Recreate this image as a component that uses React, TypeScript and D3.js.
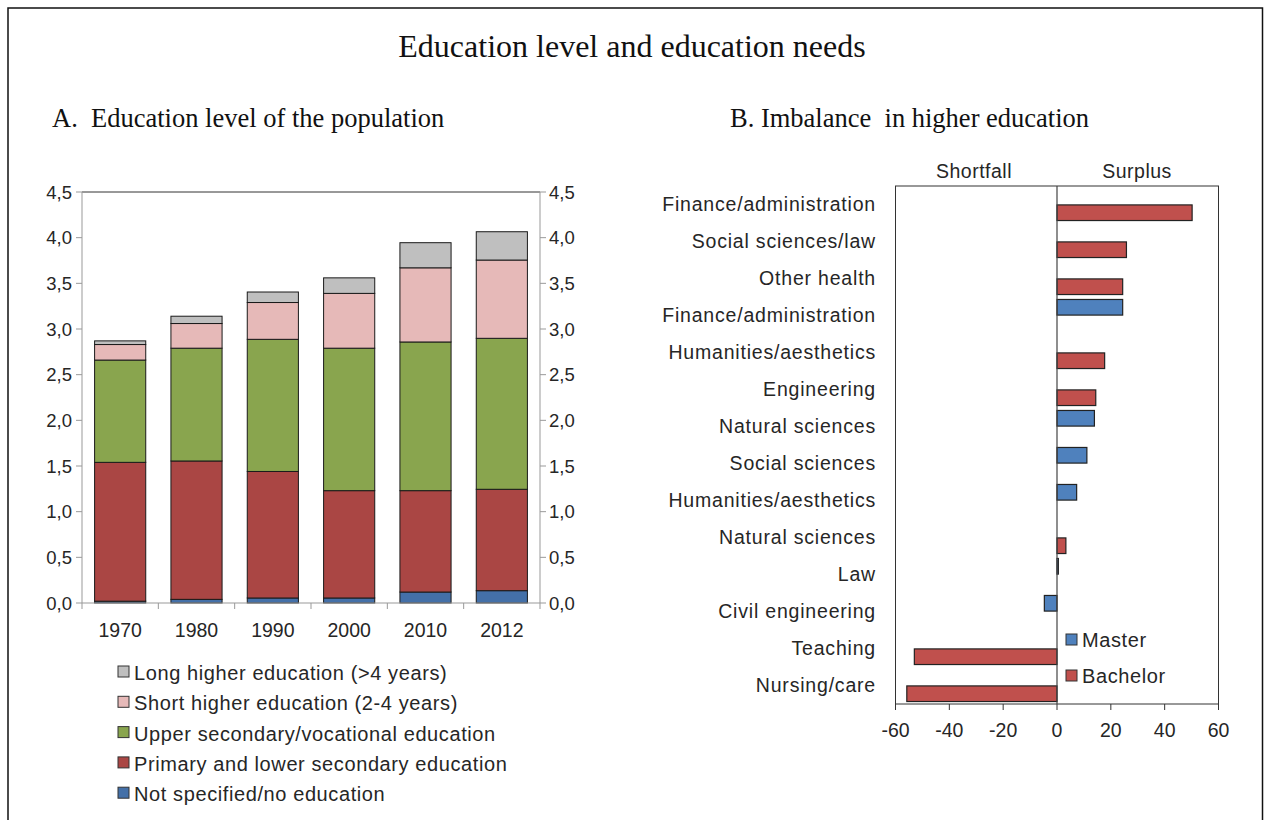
import React from "react";
import * as d3 from "d3";

const years = ["1970", "1980", "1990", "2000", "2010", "2012"];
const eduSeries = [
  "Not specified/no education",
  "Primary and lower secondary education",
  "Upper secondary/vocational education",
  "Short higher education (2-4 years)",
  "Long higher education (>4 years)",
];
const notSpecified = [0.02, 0.04, 0.055, 0.055, 0.12, 0.135];
const primaryLower = [1.52, 1.515, 1.385, 1.175, 1.11, 1.11];
const upperSecondary = [1.12, 1.235, 1.447, 1.56, 1.628, 1.653];
const shortHigher = [0.17, 0.27, 0.403, 0.6, 0.812, 0.857];
const longHigher = [0.04, 0.08, 0.115, 0.17, 0.275, 0.31];
const eduColors = ["#4470a8", "#aa4644", "#89a54e", "#e6b9b8", "#bfbfbf"];
const leftTicks = [0, 0.5, 1, 1.5, 2, 2.5, 3, 3.5, 4, 4.5];

const fields = [
  "Finance/administration",
  "Social sciences/law",
  "Other health",
  "Finance/administration",
  "Humanities/aesthetics",
  "Engineering",
  "Natural sciences",
  "Social sciences",
  "Humanities/aesthetics",
  "Natural sciences",
  "Law",
  "Civil engineering",
  "Teaching",
  "Nursing/care",
];
const masterVals: (number | null)[] = [null, null, null, 24.4, null, null, 13.9, 11.1, 7.3, null, 0.5, -4.7, null, null];
const bachelorVals: (number | null)[] = [50.2, 25.8, 24.4, null, 17.7, 14.4, null, null, null, 3.3, null, null, -53, -55.8];
const degreeSeries = ["Master", "Bachelor"];
const degreeColors = ["#4f81bd", "#c0504d"];
const rightTicks = [-60, -40, -20, 0, 20, 40, 60];

const SANS = "'Liberation Sans', Arial, sans-serif";
const SERIF = "'Liberation Serif', 'Times New Roman', serif";
const fmt = (v: number) => v.toFixed(1).replace(".", ",");

export default function App() {
  // Left chart
  const L = { x0: 82, x1: 540, y0: 192, y1: 603 };
  const x = d3.scaleBand<string>().domain(years).range([L.x0, L.x1]).paddingInner(0.33).paddingOuter(0.165);
  const y = d3.scaleLinear().domain([0, 4.5]).range([L.y1, L.y0]);
  const table = years.map((yr, i) => ({
    year: yr,
    s0: notSpecified[i],
    s1: primaryLower[i],
    s2: upperSecondary[i],
    s3: shortHigher[i],
    s4: longHigher[i],
  }));
  const stack = d3.stack<any>().keys(["s0", "s1", "s2", "s3", "s4"])(table);
  const step = x.step();
  const boundaries = years.map((_, i) => L.x0 + i * step).concat([L.x1]);

  // Right chart
  const R = { x0: 895.5, x1: 1218.5, y0: 186, y1: 704 };
  const xr = d3.scaleLinear().domain([-60, 60]).range([R.x0, R.x1]);
  const yr = d3.scaleBand<number>().domain(fields.map((_, i) => i)).range([R.y0, R.y1]).padding(0);
  const sub = d3.scaleBand<string>().domain(degreeSeries).range([0, yr.bandwidth()]).paddingInner(0.05).paddingOuter(0.15);
  const seriesVals = [masterVals, bachelorVals];

  return (
    <svg width={1264} height={820} style={{ position: "absolute", left: 0, top: 0, background: "#fff" }}>
      <rect x={0} y={0} width={1264} height={820} fill="#fff" />
      <rect x={8} y={8} width={1254.5} height={830} fill="none" stroke="#111" strokeWidth={1.5} />
      <text x={632} y={57} textAnchor="middle" fontFamily={SERIF} fontSize={32} fill="#111">
        Education level and education needs
      </text>
      <text x={52} y={127} fontFamily={SERIF} fontSize={26.5} fill="#111" xmlSpace="preserve">
        {"A.  Education level of the population"}
      </text>
      <text x={730} y={127} fontFamily={SERIF} fontSize={26.5} fill="#111" xmlSpace="preserve">
        {"B. Imbalance  in higher education"}
      </text>

      {/* Left chart */}
      {stack.map((layer, si) =>
        layer.map((d, i) => (
          <rect
            key={`${si}-${i}`}
            x={x(years[i])}
            y={y(d[1])}
            width={x.bandwidth()}
            height={y(d[0]) - y(d[1])}
            fill={eduColors[si]}
            stroke="#1a1a1a"
            strokeWidth={1}
          />
        ))
      )}
      <line x1={L.x0} x2={L.x1} y1={L.y0} y2={L.y0} stroke="#333" strokeWidth={1} />
      <line x1={L.x0} x2={L.x0} y1={L.y0} y2={L.y1} stroke="#999" strokeWidth={1} />
      <line x1={L.x1} x2={L.x1} y1={L.y0} y2={L.y1} stroke="#999" strokeWidth={1} />
      <line x1={L.x0} x2={L.x1} y1={L.y1} y2={L.y1} stroke="#999" strokeWidth={1} />
      {leftTicks.map((t) => (
        <g key={t}>
          <line x1={L.x0 - 6} x2={L.x0} y1={y(t)} y2={y(t)} stroke="#999" />
          <line x1={L.x1} x2={L.x1 + 6} y1={y(t)} y2={y(t)} stroke="#999" />
          <text x={L.x0 - 10} y={y(t) + 6.5} textAnchor="end" fontFamily={SANS} fontSize={18.5} fill="#262626">
            {fmt(t)}
          </text>
          <text x={L.x1 + 9} y={y(t) + 6.5} fontFamily={SANS} fontSize={18.5} fill="#262626">
            {fmt(t)}
          </text>
        </g>
      ))}
      {boundaries.map((bx, i) => (
        <line key={i} x1={bx} x2={bx} y1={L.y1} y2={L.y1 + 6} stroke="#999" />
      ))}
      {years.map((yv) => (
        <text key={yv} x={(x(yv) as number) + x.bandwidth() / 2} y={637} textAnchor="middle" fontFamily={SANS} fontSize={19.5} fill="#262626">
          {yv}
        </text>
      ))}
      {eduSeries
        .map((name, i) => ({ name, i }))
        .reverse()
        .map((d, k) => (
          <g key={d.name}>
            <rect x={118} y={666 + k * 30.3} width={11} height={11} fill={eduColors[d.i]} stroke="#333" strokeWidth={1} />
            <text x={134} y={680 + k * 30.3} fontFamily={SANS} fontSize={20} letterSpacing={0.6} fill="#262626">
              {d.name}
            </text>
          </g>
        ))}

      {/* Right chart */}
      <text x={974} y={178} textAnchor="middle" fontFamily={SANS} fontSize={19.5} letterSpacing={0.5} fill="#262626">Shortfall</text>
      <text x={1137} y={178} textAnchor="middle" fontFamily={SANS} fontSize={19.5} letterSpacing={0.5} fill="#262626">Surplus</text>
      <rect x={R.x0} y={R.y0} width={R.x1 - R.x0} height={R.y1 - R.y0} fill="none" stroke="#333" strokeWidth={1} />
      {fields.map((f, i) => (
        <text key={i} x={876} y={(yr(i) as number) + yr.bandwidth() / 2 + 6.5} textAnchor="end" fontFamily={SANS} fontSize={19.5} letterSpacing={0.8} fill="#262626">
          {f}
        </text>
      ))}
      {seriesVals.map((vals, si) =>
        vals.map((v, i) =>
          v === null ? null : (
            <rect
              key={`${si}-${i}`}
              x={Math.min(xr(0), xr(v))}
              y={(yr(i) as number) + (sub(degreeSeries[si]) as number)}
              width={Math.abs(xr(v) - xr(0))}
              height={sub.bandwidth()}
              fill={degreeColors[si]}
              stroke="#222"
              strokeWidth={1.2}
            />
          )
        )
      )}
      <line x1={xr(0)} x2={xr(0)} y1={R.y0} y2={R.y1} stroke="#444" strokeWidth={1.2} />
      {rightTicks.map((t) => (
        <g key={t}>
          <line x1={xr(t)} x2={xr(t)} y1={R.y1} y2={R.y1 + 6} stroke="#333" />
          <text x={xr(t)} y={737} textAnchor="middle" fontFamily={SANS} fontSize={19.5} fill="#262626">
            {t}
          </text>
        </g>
      ))}
      {degreeSeries.map((name, i) => (
        <g key={name}>
          <rect x={1066} y={634 + i * 36} width={11} height={11} fill={degreeColors[i]} stroke="#333" strokeWidth={1} />
          <text x={1082} y={647 + i * 36} fontFamily={SANS} fontSize={20} letterSpacing={0.6} fill="#262626">
            {name}
          </text>
        </g>
      ))}
    </svg>
  );
}
